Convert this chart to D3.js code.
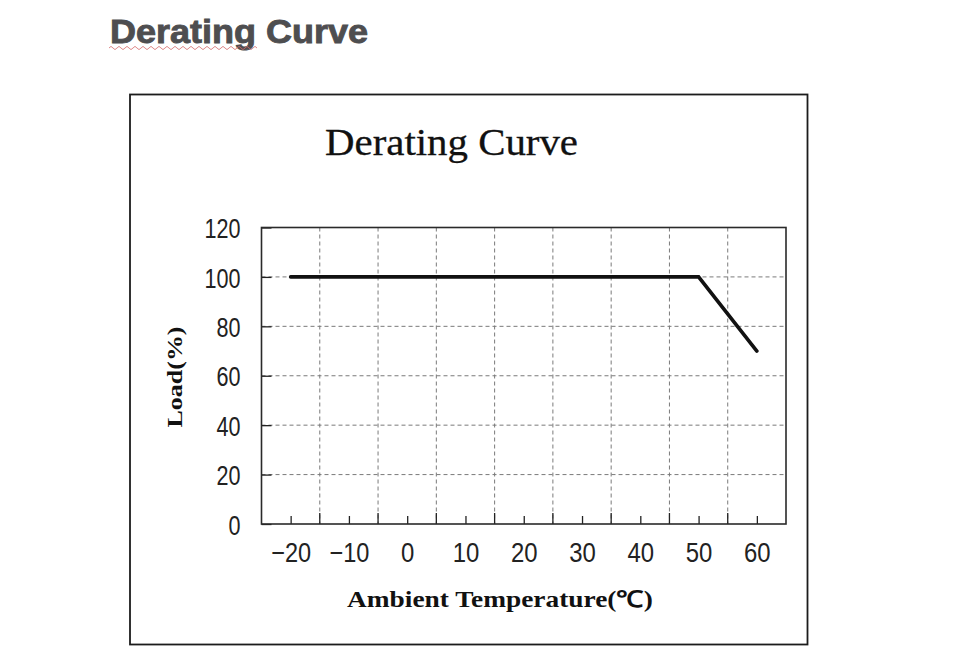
<!DOCTYPE html>
<html><head><meta charset="utf-8">
<script src="https://cdn.jsdelivr.net/npm/d3@7"></script>
<style>body{margin:0;background:#fff}svg{display:block}</style>
</head><body><svg id="c" width="978" height="660"></svg>
<script>
// ---- data ----
const temps = [-20, 50, 60];
const loads = [100, 100, 70];
const xTicks = [-20, -10, 0, 10, 20, 30, 40, 50, 60];
const xGrid = [-15, -5, 5, 15, 25, 35, 45, 55];
const yTicks = [0, 20, 40, 60, 80, 100, 120];
const yGrid = [20, 40, 60, 80, 100];
const pageTitle = "Derating Curve";
const chartTitle = "Derating Curve";
const xTitle = "Ambient Temperature(℃)";
const yTitle = "Load(%)";

const svg = d3.select("#c");
const x = d3.scaleLinear().domain([-25, 65]).range([261.5, 786]);
const y = d3.scaleLinear().domain([0, 120]).range([524, 227.5]);

// page title with spell-check squiggle
svg.append("text").attr("x", 110).attr("y", 42.7)
  .attr("font-family", "Liberation Sans, Arial, sans-serif").attr("font-weight", "bold")
  .attr("font-size", 34).attr("fill", "#4e4e50").attr("stroke", "#4e4e50").attr("stroke-width", 0.9)
  .attr("textLength", 258).attr("lengthAdjust", "spacingAndGlyphs").text(pageTitle);
let sq = "M109,48";
for (let i = 0; i < 37; i++) sq += ` l2,${i % 2 ? 1.6 : -1.6} l2,${i % 2 ? -1.6 : 1.6}`;
svg.append("path").attr("d", sq).attr("fill", "none").attr("stroke", "#d46a6a").attr("stroke-width", 0.8);

// outer frame
svg.append("rect").attr("x", 130).attr("y", 94.5).attr("width", 677.5).attr("height", 550)
  .attr("fill", "#fff").attr("stroke", "#1c1c1c").attr("stroke-width", 1.8);

// chart title
svg.append("text").attr("x", 451.5).attr("y", 155).attr("text-anchor", "middle")
  .attr("font-family", "Liberation Serif, Times New Roman, serif").attr("font-size", 38)
  .attr("fill", "#111").attr("stroke", "#111").attr("stroke-width", 0.3)
  .attr("textLength", 253).attr("lengthAdjust", "spacingAndGlyphs").text(chartTitle);

// grid
const g = svg.append("g");
g.selectAll(".vg").data(xGrid).join("line")
  .attr("x1", d => x(d)).attr("x2", d => x(d)).attr("y1", y(120)).attr("y2", y(0))
  .attr("stroke", "#7a7a7a").attr("stroke-width", 1).attr("stroke-dasharray", "4,3");
g.selectAll(".hg").data(yGrid).join("line")
  .attr("y1", d => y(d)).attr("y2", d => y(d)).attr("x1", x(-25)).attr("x2", x(65))
  .attr("stroke", "#7a7a7a").attr("stroke-width", 1).attr("stroke-dasharray", "4,3");

// solid tick stubs at grid positions
g.selectAll(".vs").data(xGrid).join("line")
  .attr("x1", d => x(d)).attr("x2", d => x(d)).attr("y1", y(0)).attr("y2", y(0) - 11)
  .attr("stroke", "#222").attr("stroke-width", 1.3);

// axes
const fontTick = "Liberation Sans, Arial, sans-serif";
const xAxis = d3.axisBottom(x).tickValues(xTicks).tickSize(-8).tickPadding(0)
  .tickFormat(d => d < 0 ? "\u2212" + Math.abs(d) : String(d));
const xa = svg.append("g").attr("transform", `translate(0,${y(0)})`).call(xAxis);
xa.select(".domain").remove();
xa.selectAll(".tick line").attr("stroke", "#222").attr("stroke-width", 1.3);
xa.selectAll(".tick text").attr("y", 38).attr("dy", 0)
  .attr("font-family", fontTick).attr("font-size", 28).attr("fill", "#222")
  .attr("textLength", function () { return this.textContent.length * 13.3; })
  .attr("lengthAdjust", "spacingAndGlyphs");

const yAxis = d3.axisLeft(y).tickValues(yTicks).tickSize(-10).tickPadding(0);
const ya = svg.append("g").attr("transform", `translate(${x(-25)},0)`).call(yAxis);
ya.select(".domain").remove();
ya.selectAll(".tick line").attr("stroke", "#222").attr("stroke-width", 1.3);
ya.selectAll(".tick text").attr("x", -21).attr("dy", "0.36em")
  .attr("font-family", fontTick).attr("font-size", 28).attr("fill", "#222")
  .attr("textLength", function () { return this.textContent.length * 12; })
  .attr("lengthAdjust", "spacingAndGlyphs");

// plot frame
svg.append("rect").attr("x", x(-25)).attr("y", y(120)).attr("width", x(65) - x(-25)).attr("height", y(0) - y(120))
  .attr("fill", "none").attr("stroke", "#2a2a2a").attr("stroke-width", 1.6);

// data line
const pts = temps.map((t, i) => [t, loads[i]]);
svg.append("path").datum(pts)
  .attr("d", d3.line().x(d => x(d[0])).y(d => y(d[1])))
  .attr("fill", "none").attr("stroke", "#111").attr("stroke-width", 3.6)
  .attr("stroke-linecap", "round").attr("stroke-linejoin", "miter");

// axis titles
svg.append("text").attr("x", 500).attr("y", 607).attr("text-anchor", "middle")
  .attr("font-family", "Liberation Serif, Times New Roman, serif").attr("font-weight", "bold")
  .attr("font-size", 23).attr("fill", "#111")
  .attr("textLength", 306).attr("lengthAdjust", "spacingAndGlyphs").text(xTitle);

svg.append("text").attr("transform", "translate(182,377) rotate(-90)").attr("text-anchor", "middle")
  .attr("font-family", "Liberation Serif, Times New Roman, serif").attr("font-weight", "bold")
  .attr("font-size", 22).attr("fill", "#111")
  .attr("textLength", 101).attr("lengthAdjust", "spacingAndGlyphs").text(yTitle);
</script></body></html>
